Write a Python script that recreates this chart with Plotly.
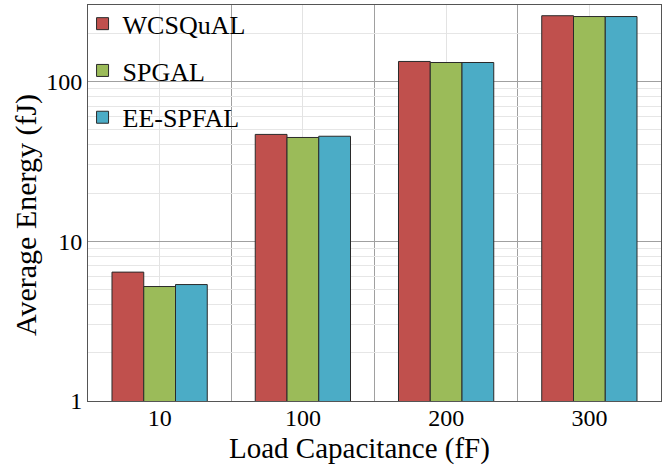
import plotly.graph_objects as go

categories = ["10", "100", "200", "300"]
series_names = ["WCSQuAL", "SPGAL", "EE-SPFAL"]
wcsqual = [6.4, 46.5, 133, 257]
spgal = [5.2, 44.5, 131, 254]
eespfal = [5.35, 45.3, 131, 254]
colors = ["#C0504D", "#9BBB59", "#4BACC6"]
x_title = "Load Capacitance (fF)"
y_title = "Average Energy (fJ)"

xpos = list(range(len(categories)))
font = "Liberation Serif"

fig = go.Figure()
for i, (name, vals) in enumerate(zip(series_names, [wcsqual, spgal, eespfal])):
    fig.add_trace(go.Bar(
        x=xpos, y=vals, name=name, legendgroup=name,
        marker=dict(color=colors[i], line=dict(color="#2a2a2a", width=1)),
    ))

fig.update_layout(
    width=668, height=466,
    margin=dict(l=88, r=7, t=5, b=65, autoexpand=False),
    paper_bgcolor="white", plot_bgcolor="white",
    barmode="group", bargap=0.335, bargroupgap=0,
    font=dict(family=font, size=24, color="black"),
    showlegend=True,
    legend=dict(x=-0.0095, y=1.012, xanchor="left", yanchor="top",
                bgcolor="rgba(0,0,0,0)", font=dict(family=font, size=26),
                traceorder="grouped", tracegroupgap=10),
    xaxis=dict(
        range=[-0.5, len(categories) - 0.5],
        tickvals=xpos, ticktext=categories,
        showgrid=True, gridcolor="#e3e3e3", gridwidth=1,
        minor=dict(tick0=0.5, dtick=1, showgrid=True, gridcolor="#a0a0a0", gridwidth=1, ticks=""),
        showline=True, linecolor="#555555", linewidth=1, mirror=True,
        ticks="", ticklen=0, ticklabelstandoff=-5,
        tickfont=dict(family=font, size=24), automargin=False,
        zeroline=False,
    ),
    yaxis=dict(
        type="log", range=[0, 2.477], dtick=1,
        showgrid=True, gridcolor="#a0a0a0", gridwidth=1,
        minor=dict(dtick="D1", showgrid=True, gridcolor="#e6e6e6", gridwidth=1, ticks=""),
        showline=True, linecolor="#555555", linewidth=1, mirror=True,
        ticks="", ticklen=0, tickfont=dict(family=font, size=24), automargin=False,
        zeroline=False,
    ),
    annotations=[
        dict(text=x_title, xref="paper", yref="paper", x=0.473, y=-0.119,
             xanchor="center", yanchor="middle", showarrow=False,
             font=dict(family=font, size=29)),
        dict(text=y_title, xref="paper", yref="paper", x=-0.108, y=0.47,
             xanchor="center", yanchor="middle", showarrow=False, textangle=-90,
             font=dict(family=font, size=30)),
    ],
)

fig.write_html("out.html", config={"displayModeBar": False},
               post_script="document.body.style.margin='0';")
